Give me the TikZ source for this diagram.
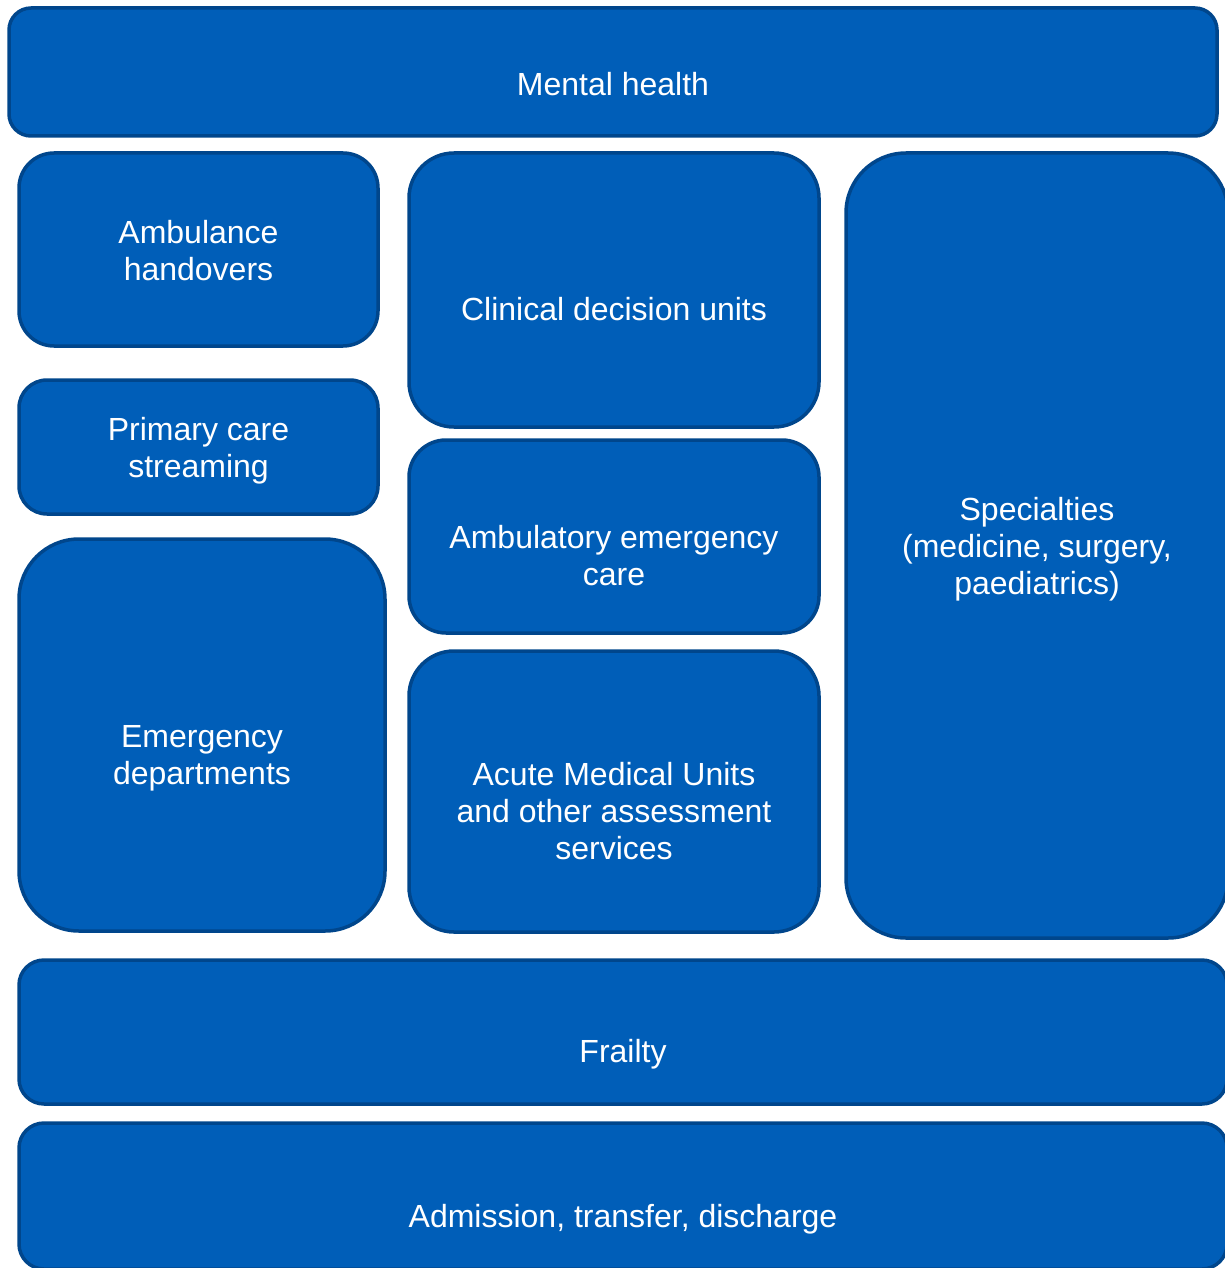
\documentclass[tikz,border=0pt]{standalone}
\usepackage{fontspec}
\setmainfont{Liberation Sans}
\usetikzlibrary{positioning}
\definecolor{nhsblue}{RGB}{0,94,184}
\definecolor{nhsdark}{RGB}{0,70,140}
\tikzset{
  % Rounded service block
  zone/.style={
    draw=nhsdark, fill=nhsblue, line width=3.5pt,
    rounded corners=#1, outer sep=0pt, inner sep=0pt
  },
  zone/.default=25pt,
  % White label inside a block
  zonetext/.style={
    text=white, align=center,
    font=\fontsize{32pt}{37pt}\selectfont
  },
}

\begin{document}
\begin{tikzpicture}[x=1pt, y=-1pt]

  \useasboundingbox (0,0) rectangle (1225,1268);
  \clip (0,0) rectangle (1225,1268);

  %% -- Top and bottom bands --
  \node[zone=22pt, minimum width=1208pt, minimum height=128pt] (mental) at (613,72) {};
  \node[zone=25pt, minimum width=1208pt, minimum height=144pt] (frailty) at (623,1032) {};
  \node[zone=25pt, minimum width=1208pt, minimum height=146pt, below=19pt of frailty] (admission) {};

  %% -- Left column --
  \node[zone=35pt, minimum width=359pt, minimum height=193pt] (ambulance) at (198.5,249.5) {};
  \node[zone=28pt, minimum width=359pt, minimum height=134pt, below=34pt of ambulance] (primary) {};
  \node[zone=60pt, minimum width=366pt, minimum height=392pt,
        below=25pt of primary.south west, anchor=north west] (emergency) {};

  %% -- Middle column --
  \node[zone=45pt, minimum width=410pt, minimum height=274pt] (cdu) at (614,290) {};
  \node[zone=37pt, minimum width=410pt, minimum height=193pt, below=13pt of cdu] (aec) {};
  \node[zone=45pt, minimum width=410pt, minimum height=281pt, below=18pt of aec] (amu) {};

  %% -- Right column --
  \node[zone=60pt, minimum width=382pt, minimum height=785pt] (specialties) at (1037,545.5) {};

  %% -- Labels --
  \node[zonetext] (mentalT) at ([yshift=-12pt]mental.center) {Mental health};
  \node[zonetext] (ambulanceT) at ([yshift=-1pt]ambulance.center) {Ambulance\\handovers};
  \node[zonetext] (primaryT) at ([yshift=-4pt]primary.center) {Primary care\\streaming};
  \node[zonetext] (emergencyT) at ([yshift=-23pt]emergency.center) {Emergency\\departments};
  \node[zonetext] (cduT) at ([yshift=-19pt]cdu.center) {Clinical decision units};
  \node[zonetext] (aecT) at ([yshift=-19pt]aec.center) {Ambulatory emergency\\care};
  \node[zonetext] (amuT) at ([yshift=-20pt]amu.center) {Acute Medical Units\\and other assessment\\services};
  \node[zonetext] (specialtiesT) at ([yshift=-4pt]specialties.center) {Specialties\\(medicine, surgery,\\paediatrics)};
  \node[zonetext] (frailtyT) at ([yshift=-22pt]frailty.center) {Frailty};
  \node[zonetext] (admissionT) at ([yshift=-23pt]admission.center) {Admission, transfer, discharge};

\end{tikzpicture}
\end{document}
